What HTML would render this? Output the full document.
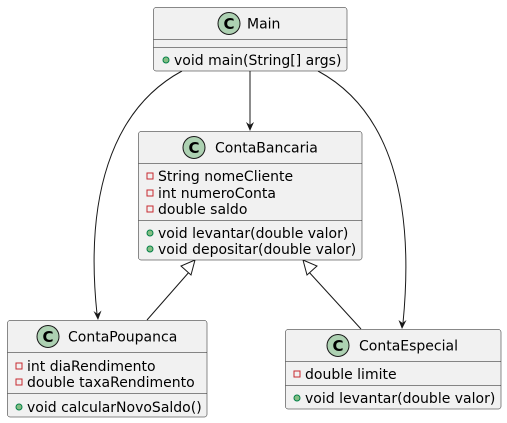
<!DOCTYPE html>
<html><head><meta charset="utf-8"><style>
html,body{margin:0;padding:0;background:#fff;}
svg{display:block;}
text{font-family:"DejaVu Sans","Liberation Sans",sans-serif;fill:#000;}
.n{font-size:14px;}
.m{font-size:14px;}
</style></head><body>
<svg width="507" height="423" viewBox="0 0 507 423" xmlns="http://www.w3.org/2000/svg">
<defs>
<g id="pub"><circle r="3" fill="#84BE84" stroke="#038048" stroke-width="1"/></g>
<g id="priv"><rect x="-3" y="-3" width="6" height="6" fill="none" stroke="#C82930" stroke-width="1"/></g>
</defs>
<g fill="none" stroke="#181818" stroke-width="1">
<path d="M250,71 L250,125"/>
<path d="M182,71 C110,110 85,200 97,314"/>
<path d="M318,71 C390,110 415,200 403,323"/>
<path d="M147,320 L190,271"/>
<path d="M361,329 L308,271"/>
</g>
<g fill="#181818">
<polygon points="250,131 246,122 250,125 254,122"/>
<polygon points="98,320 93.5,311 97.5,314 101.5,310.5"/>
<polygon points="402,329 398.5,320 402.5,323 406.5,320"/>
</g>
<g fill="#fff" stroke="#181818" stroke-width="1">
<polygon points="195,260 181,266 191,275"/>
<polygon points="303,260 307,275 317,266"/>
</g>
<g fill="#F1F1F1" stroke="#181818" stroke-width="0.5">
<rect x="153.5" y="7.5" width="193.5" height="63.5" rx="2.5"/>
<rect x="138.5" y="131.5" width="223.5" height="128.5" rx="2.5"/>
<rect x="7.5" y="320.5" width="199.5" height="96.5" rx="2.5"/>
<rect x="285.5" y="329.5" width="215.5" height="79.5" rx="2.5"/>
</g>
<g stroke="#181818" stroke-width="0.5">
<line x1="153.5" y1="39.5" x2="347" y2="39.5"/>
<line x1="153.5" y1="47.5" x2="347" y2="47.5"/>
<line x1="138.5" y1="163.5" x2="362" y2="163.5"/>
<line x1="138.5" y1="220.5" x2="362" y2="220.5"/>
<line x1="7.5" y1="352.5" x2="207" y2="352.5"/>
<line x1="7.5" y1="393.5" x2="207" y2="393.5"/>
<line x1="285.5" y1="361.5" x2="501" y2="361.5"/>
<line x1="285.5" y1="385.5" x2="501" y2="385.5"/>
</g>
<g fill="#ADD1B2" stroke="#181818" stroke-width="1">
<circle cx="229" cy="23.5" r="11"/>
<circle cx="194" cy="147.5" r="11"/>
<circle cx="48" cy="336.5" r="11"/>
<circle cx="338" cy="345.5" r="11"/>
</g>
<g text-anchor="middle">
<text x="229" y="29" style="font-size:15px;font-weight:bold">C</text>
<text x="194" y="153" style="font-size:15px;font-weight:bold">C</text>
<text x="48" y="342" style="font-size:15px;font-weight:bold">C</text>
<text x="338" y="351" style="font-size:15px;font-weight:bold">C</text>
</g>
<text class="n" x="247" y="28.5">Main</text>
<text class="n" x="215" y="152.5">ContaBancaria</text>
<text class="n" x="68" y="341.5">ContaPoupanca</text>
<text class="n" x="359" y="350.5">ContaEspecial</text>

<use href="#pub" x="166" y="60"/><text class="m" x="174" y="65">void main(String[] args)</text>

<use href="#priv" x="150" y="176"/><text class="m" x="158" y="181">String nomeCliente</text>
<use href="#priv" x="150" y="193"/><text class="m" x="158" y="198">int numeroConta</text>
<use href="#priv" x="150" y="209"/><text class="m" x="158" y="214">double saldo</text>
<use href="#pub" x="150" y="233"/><text class="m" x="158" y="238">void levantar(double valor)</text>
<use href="#pub" x="150" y="249"/><text class="m" x="158" y="254">void depositar(double valor)</text>

<use href="#priv" x="19" y="366"/><text class="m" x="27" y="371">int diaRendimento</text>
<use href="#priv" x="19" y="382"/><text class="m" x="27" y="387">double taxaRendimento</text>
<use href="#pub" x="19" y="407"/><text class="m" x="27" y="412">void calcularNovoSaldo()</text>

<use href="#priv" x="297" y="374"/><text class="m" x="305" y="379">double limite</text>
<use href="#pub" x="297" y="398"/><text class="m" x="305" y="403">void levantar(double valor)</text>
</svg>
</body></html>
